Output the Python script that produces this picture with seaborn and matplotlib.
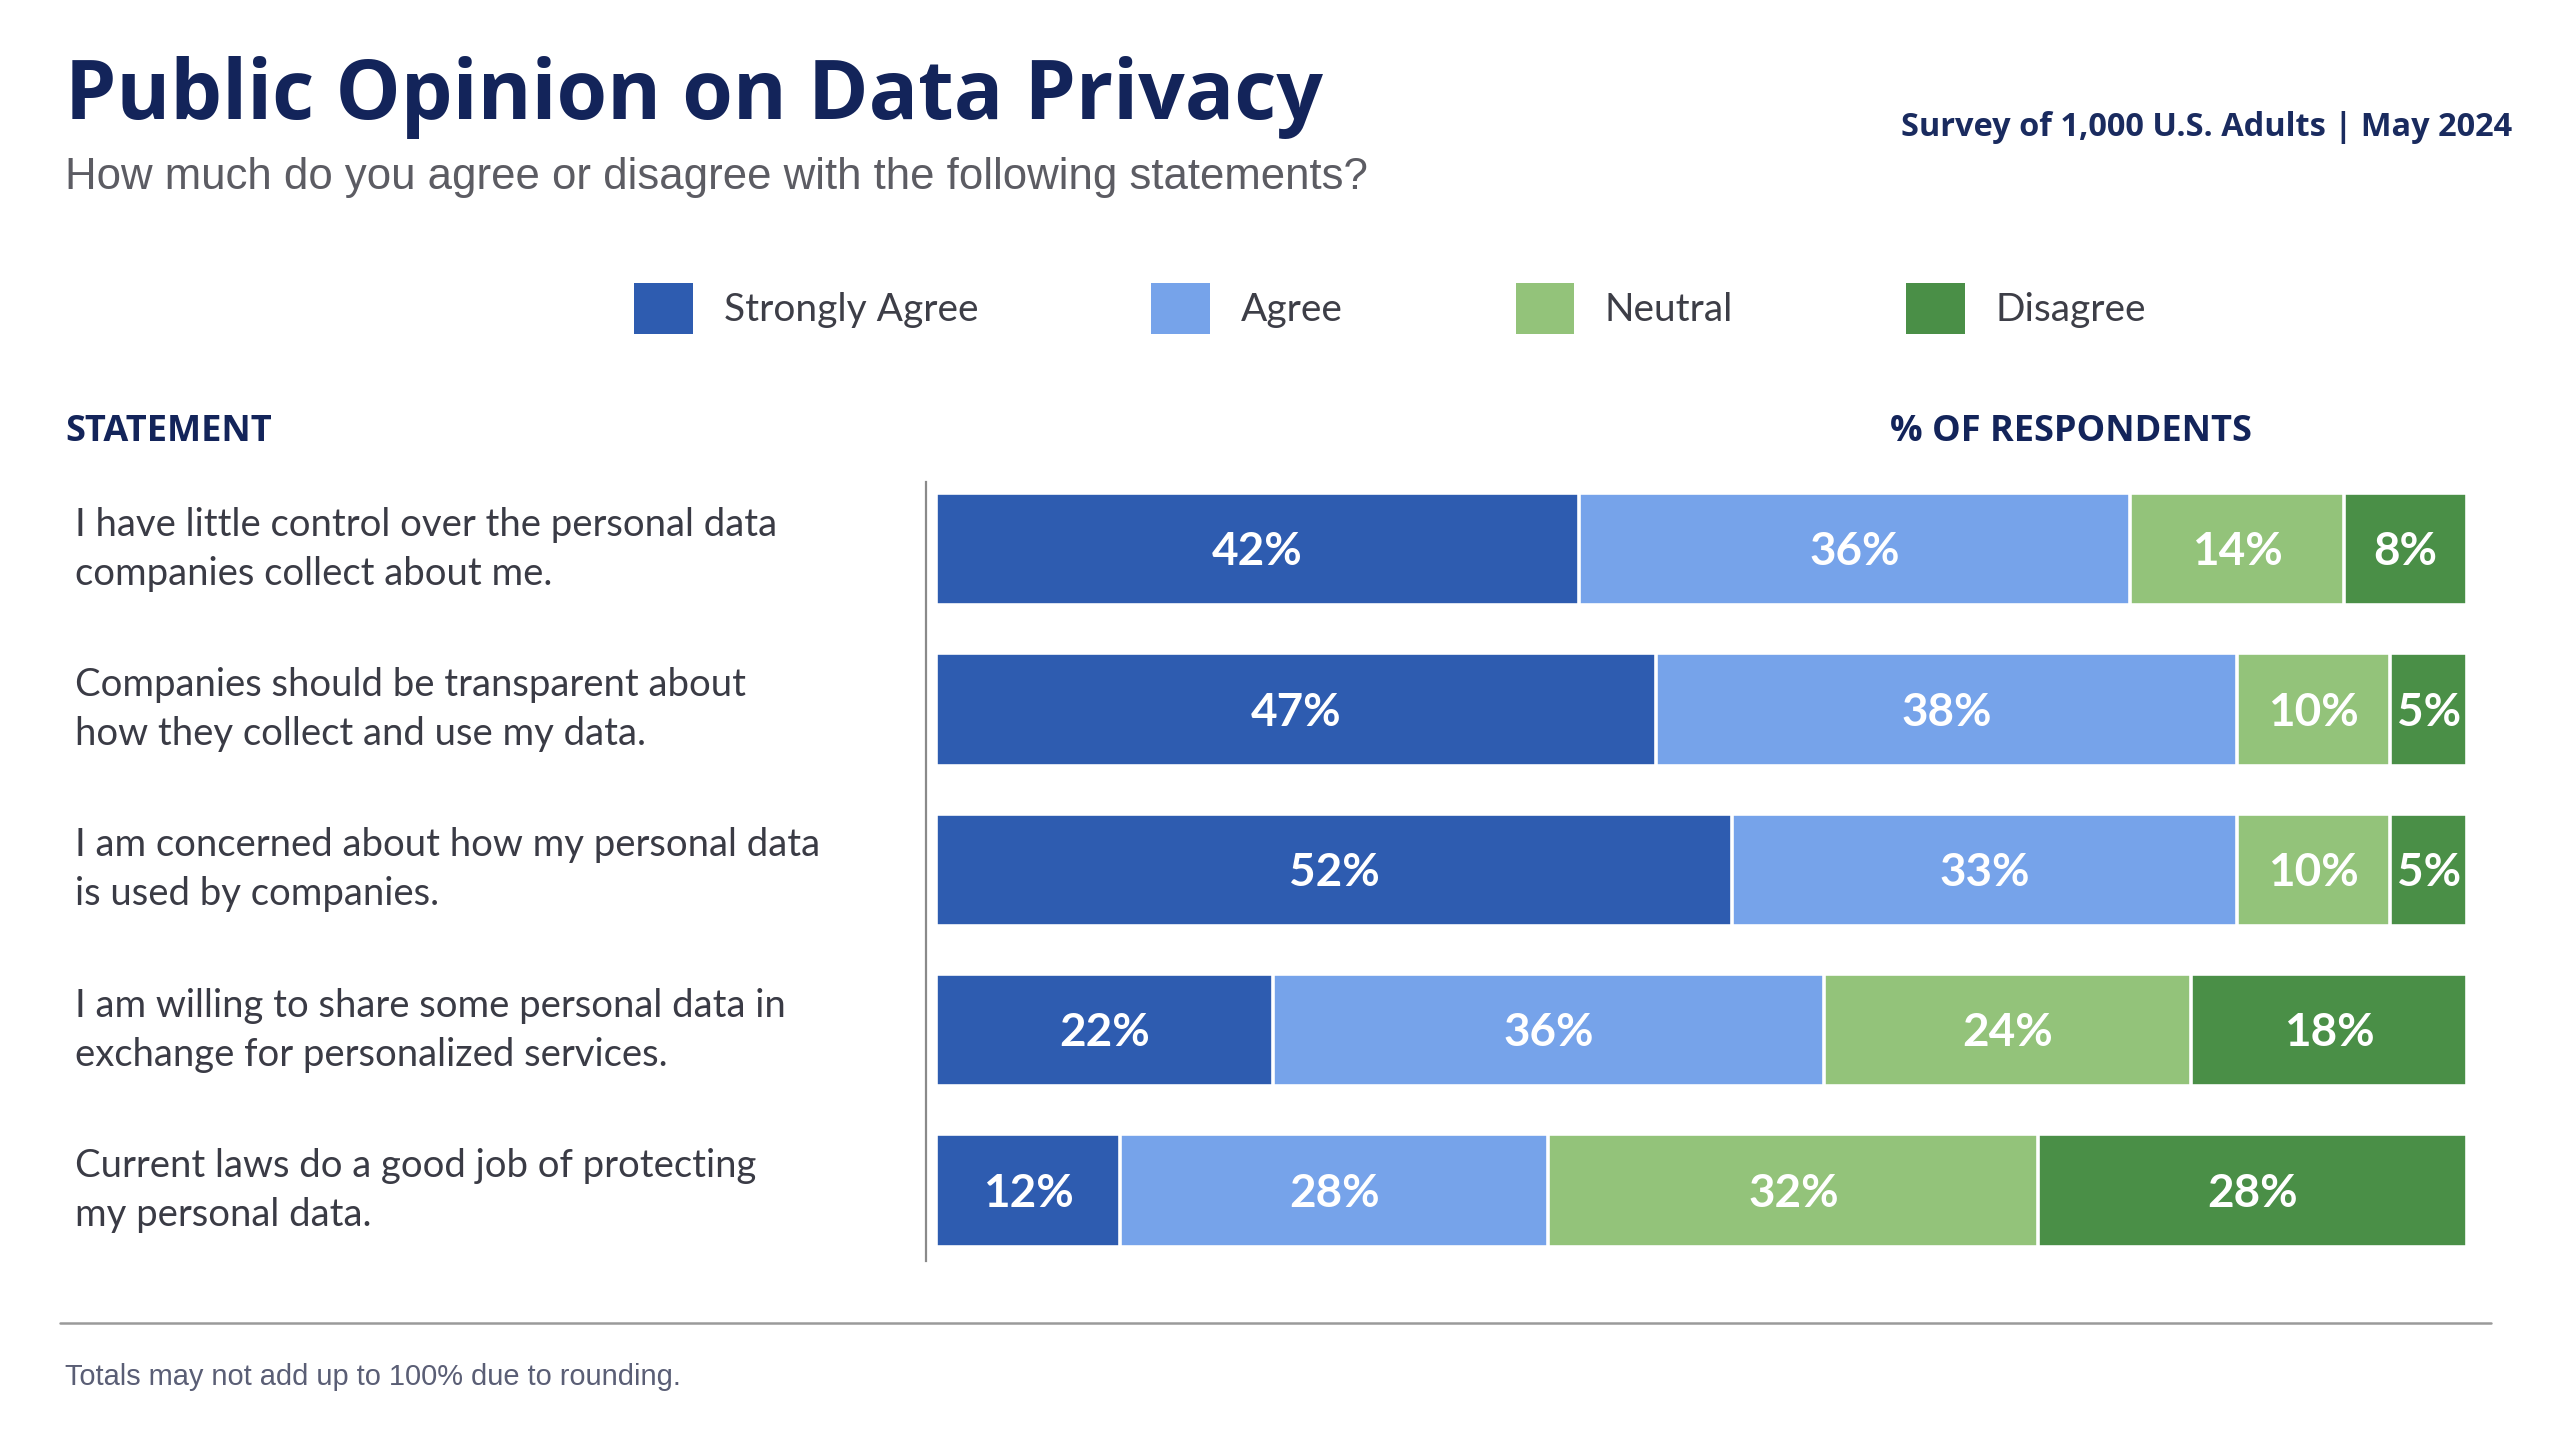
import matplotlib
matplotlib.use("Agg")
import matplotlib.pyplot as plt
from matplotlib.patches import Patch
from matplotlib.lines import Line2D
from matplotlib.transforms import blended_transform_factory
import seaborn as sns
import pandas as pd
import numpy as np

# ---------------- data ----------------
statements = [
    "I have little control over the personal data\ncompanies collect about me.",
    "Companies should be transparent about\nhow they collect and use my data.",
    "I am concerned about how my personal data\nis used by companies.",
    "I am willing to share some personal data in\nexchange for personalized services.",
    "Current laws do a good job of protecting\nmy personal data.",
]
categories = ["Strongly Agree", "Agree", "Neutral", "Disagree"]
strongly_agree = [42, 47, 52, 22, 12]
agree = [36, 38, 33, 36, 28]
neutral = [14, 10, 10, 24, 32]
disagree = [8, 5, 5, 18, 28]
colors = ["#2e5cb0", "#76a3ea", "#93c37a", "#4a8f47"]

series = [strongly_agree, agree, neutral, disagree]
cum = np.cumsum(np.array(series), axis=0)  # shape (4, 5)

# ---------------- figure ----------------
sns.set_theme(style="white")
plt.rcParams["font.family"] = ["Lato", "DejaVu Sans"]

W, H = 1567.0, 881.5
def fx(x):
    return x / W
def fy(y):
    return 1 - y / H

fig = plt.figure(figsize=(25.6, 14.4), dpi=100, facecolor="white")
ax = fig.add_axes([fx(567), fy(772), fx(1510) - fx(567), fy(295) - fy(772)])
ax.set_facecolor("white")

# stacked bars: draw cumulative totals from largest to smallest
for i in range(len(categories) - 1, -1, -1):
    tmp = pd.DataFrame({"statement": statements, "value": cum[i]})
    sns.barplot(data=tmp, x="value", y="statement", orient="h", color=colors[i],
                width=0.7, edgecolor="white", linewidth=2.6, saturation=1,
                ax=ax, zorder=2 + (len(categories) - i))

# value labels
for i in range(len(categories)):
    for j, v in enumerate(series[i]):
        center = cum[i][j] - v / 2.0
        ax.text(center, j + 0.02, f"{v}%", ha="center", va="center", color="white",
                fontsize=33, fontweight="bold", family=["Lato", "DejaVu Sans"], zorder=20)

ax.set_xlim(-0.64, 100)
ax.set_ylim(4.44, -0.42)
ax.set_xlabel("")
ax.set_ylabel("")
ax.set_xticks([])
ax.set_yticks([])
for s in ["top", "right", "bottom"]:
    ax.spines[s].set_visible(False)
ax.spines["left"].set_color("#8a8a8a")
ax.spines["left"].set_linewidth(1.6)

# statement labels
trans = blended_transform_factory(fig.transFigure, ax.transData)
for j, s in enumerate(statements):
    ax.text(fx(46), j, s, transform=trans, ha="left", va="center",
            fontsize=27.5, color="#3a3b45", linespacing=1.45,
            family=["Lato", "DejaVu Sans"])

# titles
fig.text(fx(40), fy(73), "Public Opinion on Data Privacy", ha="left", va="baseline",
         fontsize=59, fontweight="bold", color="#13245a", family=["Open Sans", "DejaVu Sans"])
fig.text(fx(40), fy(116), "How much do you agree or disagree with the following statements?",
         ha="left", va="baseline", fontsize=31.5, color="#5c5c63",
         family=["Liberation Sans", "DejaVu Sans"])
fig.text(fx(1538), fy(83), "Survey of 1,000 U.S. Adults | May 2024", ha="right",
         va="baseline", fontsize=23.4, fontweight="bold", color="#1a2b5f",
         family=["Open Sans", "DejaVu Sans"])

fig.text(fx(40), fy(270), "STATEMENT", ha="left", va="baseline", fontsize=26,
         fontweight="bold", color="#13245a", family=["Open Sans", "DejaVu Sans"])
fig.text(fx(1157), fy(270), "% OF RESPONDENTS", ha="left", va="baseline", fontsize=26,
         fontweight="bold", color="#13245a", family=["Open Sans", "DejaVu Sans"])

# legend
handles = [Patch(facecolor=c, edgecolor="none", label=l) for c, l in zip(colors, categories)]
leg = fig.legend(handles=handles, loc="center", bbox_to_anchor=(fx(851), fy(189)),
                 ncol=4, frameon=False, handlelength=1.5, handleheight=1.65,
                 handletextpad=0.8, columnspacing=4.45,
                 prop={"family": ["Lato", "DejaVu Sans"], "size": 28})
for t in leg.get_texts():
    t.set_color("#3d3e47")

# bottom rule and footnote
fig.add_artist(Line2D([fx(37), fx(1525)], [fy(810), fy(810)], transform=fig.transFigure,
                      color="#9a9a9a", linewidth=1.8))
fig.text(fx(40), fy(848), "Totals may not add up to 100% due to rounding.", ha="left",
         va="baseline", fontsize=20.9, color="#5a5e75", family=["Liberation Sans", "DejaVu Sans"])

fig.savefig("out.png", dpi=100, facecolor="white")
